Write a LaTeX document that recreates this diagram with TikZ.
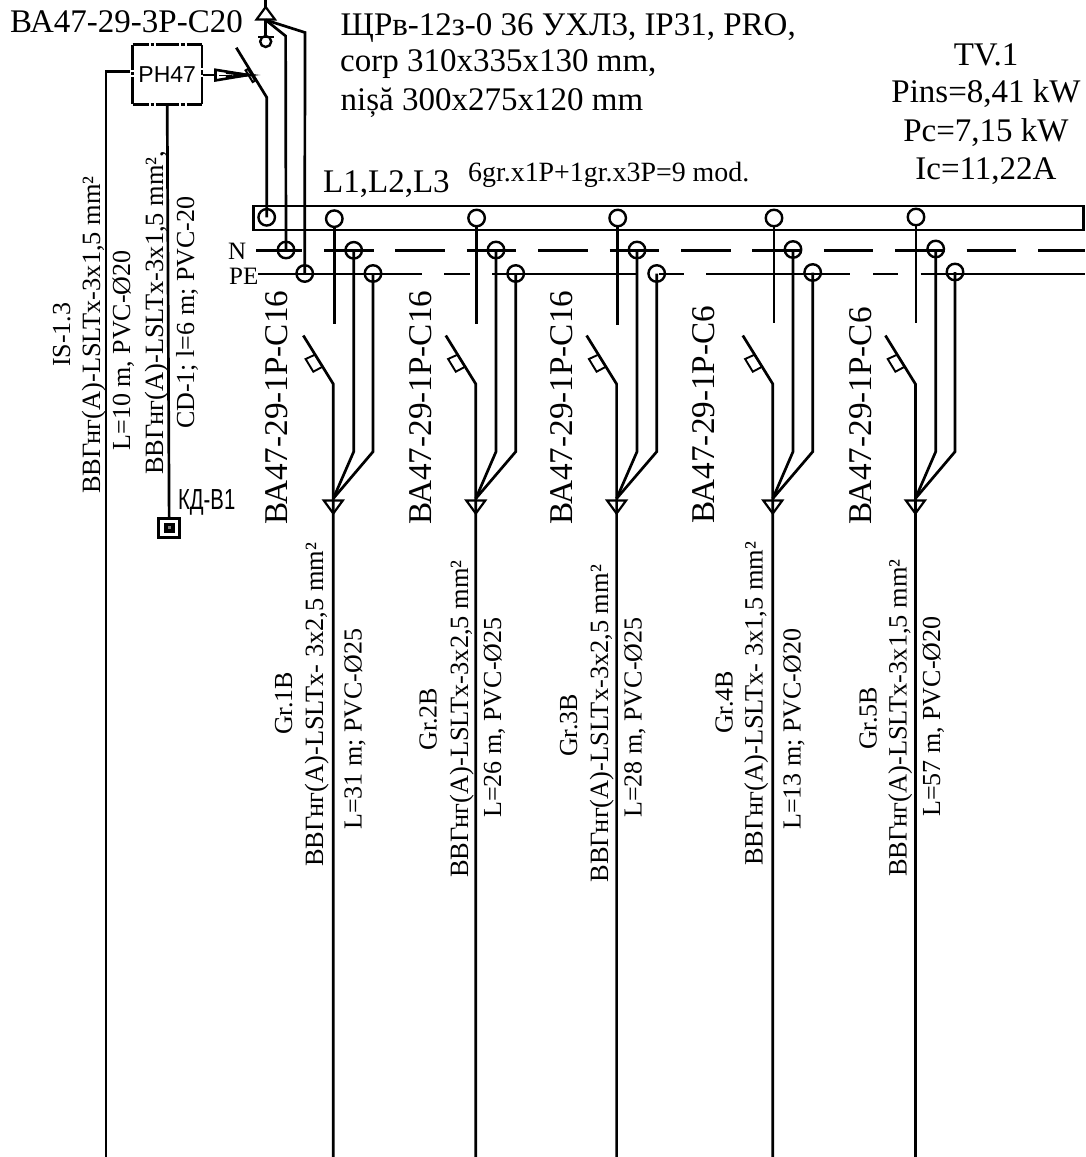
\documentclass[tikz,border=0pt]{standalone}
\usepackage{fontspec}
\setmainfont{Liberation Serif}
\setsansfont{Liberation Sans}
\begin{document}
\begin{tikzpicture}[x=1pt,y=-1pt,line join=miter,
  wire/.style={line width=2.7pt},
  term/.style={circle,draw,line width=2.4pt,minimum size=16.5pt,inner sep=0pt,outer sep=0pt},
  big/.style={inner sep=0pt,font=\fontsize{33}{37}\selectfont},
  rotbig/.style={inner sep=0pt,rotate=90,anchor=base west,font=\fontsize{33.2}{37}\selectfont},
  rotlab/.style={inner sep=0pt,rotate=90,anchor=base west,font=\fontsize{26}{30}\selectfont},
  rotcab/.style={inner sep=0pt,rotate=90,anchor=base west,font=\fontsize{26.4}{30}\selectfont},
  textl/.style={inner sep=0pt,anchor=base west,font=\fontsize{33}{37}\selectfont},
]
\useasboundingbox (0,0) rectangle (1085,1157);
% busbar
\node[draw,line width=2.5pt,minimum width=830pt,minimum height=24pt,inner sep=0pt,outer sep=0pt,anchor=north west] (bar) at (253.5,206) {};
% N and PE buses
\coordinate (Na) at (256,250.3); \coordinate (Nb) at (301.7,250.3);
\coordinate (Nc) at (324,250.3); \coordinate (Nd) at (1085,250.3);
\coordinate (Pa) at (258,274); \coordinate (Pb) at (1085,274);
\draw[wire] (Na) -- (Nb);
\draw[wire,dash pattern=on 49.5pt off 21.9pt] (Nc) -- (Nd);
\draw[wire,dash pattern=on 163.7pt off 22.3pt on 26pt off 22pt on 144.7pt off 22.3pt on 25pt off 22pt on 144pt off 23pt on 25pt off 22.7pt on 200pt off 10pt] (Pa) -- (Pb);
% outgoing groups
\foreach \i/\xl/\xn/\xe/\tx/\yl/\yn/\ye/\st in {
  1/334.3/353.7/373/333.3/218.7/250.3/273.5/324,
  2/476.6/496/515.7/475.8/218/250/273.5/324,
  3/617.7/637/656.7/616.6/218/250/273.5/325,
  4/774/793/812.7/772.8/218/249.5/272.5/323,
  5/916/935.7/955/915.4/217/249/272/323}{
  \node[term] (L\i) at (\xl,\yl) {};
  \node[term] (N\i) at (\xn,\yn) {};
  \node[term] (E\i) at (\xe,\ye) {};
  \coordinate (S\i) at (\xl,\st);
  \coordinate (K\i) at (\tx,384);
  \coordinate (B\i) at (\tx-30,335.5);
  \coordinate (D\i) at (\tx,1157);
  \coordinate (T\i) at (\tx,498.5);
  \draw[wire] (L\i.south) -- (S\i);
  \draw[wire] (B\i) -- (K\i) -- (D\i);
  \draw[wire] (N\i.center) -- (\xn,451.7) -- (T\i);
  \draw[wire] (E\i.center) -- (\xe,451.7) -- (T\i);
  \draw[line width=1.9pt] (\tx-27.7,359) -- (\tx-18.3,354.7) -- (\tx-10.7,366.7) -- (\tx-20,371.7) -- cycle;
  \draw[line width=2.2pt] (\tx-9.5,500.5) -- (\tx+9.5,500.5) -- (\tx,513.5) -- cycle;
}
% incoming feeder
\coordinate (Ftop) at (265.7,0);
\coordinate (Fapex) at (265.7,7);
\coordinate (Fbase) at (265.7,20);
\coordinate (Ffork) at (265.7,37);
\node[circle,draw,line width=2.4pt,minimum size=11pt,inner sep=0pt,outer sep=0pt] (Fc) at (265.7,41.5) {};
\draw[wire] (Ftop) -- (Fapex);
\draw[line width=2.2pt] (Fapex) -- (275,19.5) -- (256.5,19.5) -- cycle;
\draw[wire] (Fbase) -- (Ffork);
\draw[wire] (258,37) -- (273.5,37);
\node[term] (Ltop) at (266.7,217.3) {};
\node[term] (Ntop) at (286,250) {};
\node[term] (Etop) at (304.7,273.5) {};
\draw[wire] (Fbase) -- (285.6,36) -- (Ntop.center);
\draw[wire] (Fbase) -- (305,32.5) -- (Etop.center);
\draw[wire] (236.3,47.7) -- (266.7,97.3) -- (Ltop.center);
\draw[line width=2pt] (248,69) -- (255.2,80.6) -- (252.7,82) -- (245.6,70.4) -- cycle;
% RCBO box
\node[inner sep=0pt,minimum width=69pt,minimum height=59pt,font=\fontsize{23}{23}\sffamily\selectfont] (ph) at (167.2,74.5) {РН47};
\draw[wire,dash pattern=on 16pt off 2pt on 3pt off 2pt on 23pt off 2pt on 4pt off 2pt on 18pt] (ph.north west) -- (ph.north east);
\draw[wire,dash pattern=on 16pt off 2pt on 3pt off 2pt on 23pt off 2pt on 4pt off 2pt on 18pt] (ph.south west) -- (ph.south east);
\draw[wire,dash pattern=on 25pt off 2pt on 3pt off 2pt on 30pt] (ph.north west) -- (ph.south west);
\draw[wire,dash pattern=on 23.5pt off 2pt on 5pt off 2pt on 30pt] (ph.north east) -- (ph.south east);
% left circuits
\coordinate (Wa) at (130,71.7); \coordinate (Wb) at (106,71.7); \coordinate (Wc) at (106,1157);
\draw[wire] (Wa) -- (Wb) -- (Wc);
\coordinate (Ra) at (203,75); \coordinate (Rb) at (215,75);
\draw[wire] (Ra) -- (Rb);
\draw[line width=2.6pt] (215.5,69.8) -- (248,75) -- (215.5,80.4) -- cycle;
\draw[line width=2.8pt] (226,72.5) -- (248,75) -- (226,77.5);
\draw[line width=0.8pt] (219,75) -- (232,75);
\node[draw,line width=3pt,minimum width=21pt,minimum height=18.5pt,inner sep=0pt] (kd) at (169.2,527.8) {};
\draw[wire] (ph.south) -- (kd.center);
\node[fill=white,minimum width=17pt,minimum height=15pt,inner sep=0pt] (kdg) at (169.2,527.8) {};
\node[fill=black,minimum width=11pt,minimum height=10pt,inner sep=0pt] (kdi) at (169.4,527.7) {};
\node[fill=gray,minimum size=2.5pt,inner sep=0pt] (kdc) at (169.4,527.7) {};
% top texts
\node[textl] (t1) at (10,32.5) {ВА47-29-3Р-С20};
\node[textl] (t2) at (340.5,35) {ЩРв-12з-0 36 УХЛ3, IP31, PRO,};
\node[textl] (t3) at (340,71) {corp 310x335x130 mm,};
\node[textl] (t4) at (340.5,110) {nișă 300x275x120 mm};
\node[textl] (t5) at (323,192.7) {L1,L2,L3};
\node[inner sep=0pt,anchor=base west,font=\fontsize{27.9}{28}\selectfont] (t6) at (468,181.7) {6gr.x1P+1gr.x3P=9 mod.};
\node[big,anchor=base] (tv1) at (986,65) {TV.1};
\node[big,anchor=base] (tv2) at (986,102.7) {Pins=8,41 kW};
\node[big,anchor=base] (tv3) at (986,141) {Pc=7,15 kW};
\node[big,anchor=base] (tv4) at (986,179) {Ic=11,22A};
\node[inner sep=0pt,anchor=base west,font=\fontsize{25}{25}\selectfont] (lN) at (228,259) {N};
\node[inner sep=0pt,anchor=base west,font=\fontsize{25}{25}\selectfont] (lP) at (229,284) {PE};
\node[inner sep=0pt,anchor=base west,font=\fontsize{29}{29}\sffamily\selectfont,xscale=0.7] (lK) at (178,509) {КД-В1};
% rotated breakers
\node[rotbig] (b1) at (287.5,525) {ВА47-29-1P-C16};
\node[rotbig] (b2) at (431.5,525) {ВА47-29-1P-C16};
\node[rotbig] (b3) at (572,525) {ВА47-29-1P-C16};
\node[rotbig] (b4) at (714,523.5) {ВА47-29-1P-C6};
\node[rotbig] (b5) at (871.5,525) {ВА47-29-1P-C6};
% rotated labels, left
\node[rotlab] (a1) at (70,367) {IS-1.3};
\node[rotcab] (a2) at (100,494) {ВВГнг(А)-LSLTx-3x1,5 mm²};
\node[rotlab] (a3) at (130,450.7) {L=10 m, PVC-Ø20};
\node[rotcab] (a4) at (163,475) {ВВГнг(А)-LSLTx-3x1,5 mm²,};
\node[rotlab] (a5) at (194,429) {CD-1; l=6 m; PVC-20};
% rotated labels, groups
\node[rotlab] (g1) at (292,735) {Gr.1B};
\node[rotcab] (c1) at (323,867) {ВВГнг(А)-LSLTx- 3x2,5 mm²};
\node[rotlab] (d1) at (361.7,830) {L=31 m; PVC-Ø25};
\node[rotlab] (g2) at (436.7,750.7) {Gr.2B};
\node[rotcab] (c2) at (468,878) {ВВГнг(А)-LSLTx-3x2,5 mm²};
\node[rotlab] (d2) at (501,818) {L=26 m, PVC-Ø25};
\node[rotlab] (g3) at (577,757) {Gr.3B};
\node[rotcab] (c3) at (608,882.7) {ВВГнг(А)-LSLTx-3x2,5 mm²};
\node[rotlab] (d3) at (641.7,818) {L=28 m, PVC-Ø25};
\node[rotlab] (g4) at (732.7,734) {Gr.4B};
\node[rotcab] (c4) at (762.7,866) {ВВГнг(А)-LSLTx- 3x1,5 mm²};
\node[rotlab] (d4) at (800.7,830) {L=13 m; PVC-Ø20};
\node[rotlab] (g5) at (876.7,750) {Gr.5B};
\node[rotcab] (c5) at (906.7,877) {ВВГнг(А)-LSLTx-3x1,5 mm²};
\node[rotlab] (d5) at (940,817) {L=57 m, PVC-Ø20};
\end{tikzpicture}
\end{document}
